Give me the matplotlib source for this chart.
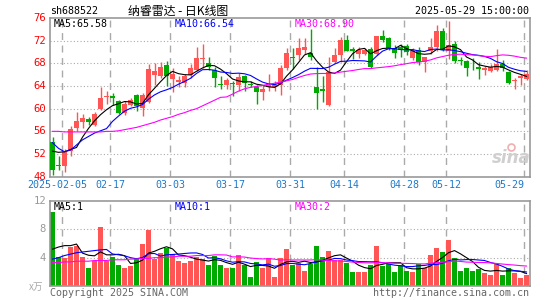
import pandas as pd
import matplotlib
matplotlib.use('Agg')
import matplotlib.pyplot as plt

# 纳睿雷达 daily K-line, 80 trading days up to 2025-05-29
opens = [54.2, 50.1, 49.9, 52.5, 56.6, 57.7, 58.1, 57.1, 59.9, 62.0,
         62.3, 61.4, 59.3, 60.7, 62.5, 60.1, 61.2, 65.9, 65.7, 67.7,
         65.3, 64.7, 64.5, 65.9, 66.9, 68.7, 68.0, 66.9, 64.3, 64.1,
         64.4, 64.2, 65.7, 64.4, 63.9, 62.9, 63.9, 63.8, 64.2, 67.2,
         69.0, 69.5, 70.4, 69.8, 63.9, 63.5, 60.6, 68.2, 69.5, 72.1,
         70.5, 69.6, 69.6, 70.5, 69.6, 72.9, 72.4, 70.7, 70.8, 71.0,
         68.9, 70.4, 68.3, 70.1, 70.9, 73.7, 70.1, 71.5, 68.5, 68.4,
         67.9, 67.3, 66.9, 66.6, 66.9, 67.9, 66.5, 64.8, 65.4, 65.3]
closes = [49.2, 49.9, 52.3, 56.5, 57.9, 58.3, 57.6, 59.0, 61.9, 62.3,
          61.9, 59.3, 60.9, 61.6, 60.4, 62.4, 67.0, 66.6, 67.4, 65.8,
          66.1, 65.0, 65.7, 67.2, 69.0, 69.0, 67.3, 65.4, 64.2, 65.0,
          64.3, 65.6, 64.6, 64.2, 62.9, 63.4, 64.2, 64.1, 67.2, 69.8,
          68.9, 70.7, 70.8, 69.2, 62.7, 63.2, 66.5, 69.5, 72.1, 70.2,
          70.1, 70.4, 70.4, 67.3, 72.9, 72.1, 70.7, 69.8, 70.4, 70.0,
          70.2, 68.2, 69.2, 70.9, 73.7, 70.4, 71.2, 68.4, 68.4, 67.2,
          67.8, 67.0, 67.2, 67.4, 67.9, 67.2, 64.5, 65.0, 65.7, 66.1]
highs = [55.0, 51.7, 52.8, 56.9, 59.4, 59.1, 58.5, 59.4, 63.8, 63.2,
         62.8, 61.6, 61.4, 61.9, 62.6, 62.7, 67.9, 68.0, 68.3, 68.4,
         67.2, 65.7, 66.1, 67.9, 70.8, 71.5, 69.2, 67.4, 65.8, 65.4,
         64.9, 66.3, 66.0, 64.8, 64.2, 64.2, 66.1, 64.8, 67.7, 70.7,
         70.7, 72.5, 72.4, 74.0, 67.4, 65.7, 69.2, 70.7, 72.7, 73.0,
         70.8, 70.8, 70.7, 70.8, 72.9, 73.9, 72.7, 71.2, 71.5, 71.5,
         70.7, 70.9, 69.2, 72.5, 74.7, 74.2, 75.4, 71.9, 69.2, 68.6,
         68.9, 68.3, 67.6, 67.9, 70.5, 68.6, 66.7, 65.4, 66.1, 66.9]
lows = [48.3, 49.1, 48.9, 51.7, 56.0, 56.6, 57.1, 56.9, 59.7, 60.8,
        60.7, 59.1, 58.9, 60.4, 59.6, 58.7, 61.0, 64.2, 65.4, 64.0,
        62.9, 63.9, 63.8, 65.4, 66.7, 67.2, 66.9, 63.9, 63.4, 63.5,
        62.2, 63.1, 63.2, 63.8, 60.8, 61.6, 63.1, 63.2, 62.5, 66.9,
        67.0, 68.6, 69.6, 68.6, 60.0, 61.2, 60.4, 68.0, 68.3, 70.1,
        68.8, 68.9, 69.5, 67.2, 69.5, 71.8, 70.4, 69.0, 69.2, 69.5,
        68.6, 67.7, 66.5, 69.6, 70.1, 70.1, 68.8, 68.0, 67.7, 65.7,
        66.9, 65.3, 66.0, 66.5, 66.6, 66.7, 64.3, 63.5, 64.2, 65.1]
# volume, 万
volumes = [10.5, 4.1, 3.9, 5.5, 5.6, 4.1, 2.6, 3.5, 8.3, 3.5,
           4.1, 3.0, 2.5, 2.8, 4.0, 6.0, 7.9, 3.8, 4.6, 5.4,
           4.5, 3.6, 3.3, 3.5, 4.1, 3.8, 2.9, 4.3, 3.0, 2.5,
           2.6, 4.4, 2.9, 1.3, 3.4, 2.5, 4.0, 1.3, 4.0, 5.2,
           2.9, 3.3, 2.1, 3.1, 5.6, 4.1, 4.9, 3.7, 3.7, 3.3,
           2.0, 2.0, 2.0, 2.9, 5.6, 2.8, 3.1, 2.0, 2.9, 2.1,
           2.0, 3.1, 2.5, 4.4, 5.3, 4.8, 6.5, 4.0, 2.1, 2.6,
           2.1, 2.4, 1.8, 1.6, 3.1, 1.6, 2.6, 1.8, 1.2, 1.6]

# averages before a full window exists (older days are off the chart)
ma5_head = [52.5, 52.3, 52.4, 52.8]
ma10_head = [54.0, 53.0, 52.4, 52.7, 53.6, 54.5, 55.1, 55.7, 56.1]
ma30_head = [56.0, 56.0, 55.9, 55.9, 55.9, 55.9, 55.9, 55.9, 55.9, 56.0,
             56.0, 56.1, 56.3, 56.5, 56.7, 57.0, 57.3, 57.6, 58.0, 58.3,
             58.6, 59.0, 59.3, 59.7, 60.0, 60.5, 61.0, 61.5, 62.0]
vol_ma5_head = [5.2, 5.5, 5.7, 5.7]
vol_ma10_head = [3.8, 4.0, 4.3, 4.5, 4.7, 4.8, 4.9, 5.0, 5.1]
vol_ma30_head = [3.3, 3.3, 3.4, 3.4, 3.5, 3.5, 3.5, 3.6, 3.6, 3.6,
                 3.7, 3.7, 3.7, 3.8, 3.8, 3.9, 3.9, 4.0, 4.0, 4.1,
                 4.1, 4.2, 4.2, 4.2, 4.3, 4.3, 4.3, 4.4, 4.4]

date_labels = ['2025-02-05', '02-17', '03-03', '03-17', '03-31', '04-14', '04-28', '05-12', '05-29']
date_index = [2, 10, 20, 30, 40, 49, 59, 66, 79]
price_ticks = [76, 72, 68, 64, 60, 56, 52, 48]
vol_ticks = [12, 8, 4]

RED = '#ff5555'
GREEN = '#00aa00'
GRID = '#aaaaaa'
MONO = ['DejaVu Sans Mono', 'Noto Sans CJK SC']
plt.rcParams['font.family'] = MONO


def moving_avg(values, n, head):
    s = pd.Series(values, dtype=float).rolling(n).mean()
    s.iloc[:n - 1] = head
    return s


W, H = 545, 300
fig = plt.figure(figsize=(W / 100, H / 100), dpi=100)


def px_axes(left, top, right, bottom):
    return fig.add_axes([left / W, 1 - bottom / H, (right - left) / W, (bottom - top) / H])


def ftext(x, y, s, **kw):
    fig.text(x / W, 1 - y / H, s, va='center', **kw)


ax = px_axes(50, 18, 529.5, 176.7)
axv = px_axes(50, 201, 529.5, 286)

n = len(closes)
xs = list(range(n))
colors = [RED if c >= o else GREEN for o, c in zip(opens, closes)]
x0, x1 = -0.42, n - 0.5

for a in (ax, axv):
    a.set_xlim(x0, x1)
    a.set_xticks([])
    a.set_yticks([])
    for sp in a.spines.values():
        sp.set_color('#999999')
        sp.set_linewidth(1.2)
    for d in date_index:
        a.axvline(d - 0.42, color=GRID, lw=1.0, ls=(0, (5, 4)), zorder=0)

# price panel
ax.set_ylim(48, 76)
for v in price_ticks[1:-1]:
    ax.axhline(v, color=GRID, lw=0.8, ls=(0, (1, 2)), zorder=0)

ax.vlines(xs, lows, highs, colors=colors, lw=1.0, zorder=2)
bottoms = [min(o, c) for o, c in zip(opens, closes)]
heights = [max(abs(c - o), 0.15) for o, c in zip(opens, closes)]
ax.bar(xs, heights, bottom=bottoms, width=5 / 6, color=colors, lw=0, zorder=3)

ax.plot(xs, moving_avg(closes, 5, ma5_head), color='black', lw=0.8, zorder=4)
ax.plot(xs, moving_avg(closes, 10, ma10_head), color='#0000ff', lw=0.8, zorder=4)
ax.plot(xs, moving_avg(closes, 30, ma30_head), color='#ff00ff', lw=0.8, zorder=4)

for v in price_ticks:
    ax.text(-4 / 479.5, v, str(v), transform=ax.get_yaxis_transform(),
            ha='right', va='center', color='#ff0000', fontsize=7.6)

for lab, d in zip(date_labels, date_index):
    if d == date_index[0]:
        ax.text(0.75, -0.055, lab, transform=ax.get_xaxis_transform(),
                ha='center', va='center', color='#1e78c8', fontsize=7.2)
    elif d == date_index[-1]:
        ax.text(d - 0.42, -0.055, lab, transform=ax.get_xaxis_transform(),
                ha='right', va='center', color='#1e78c8', fontsize=7.2)
    else:
        ax.text(d - 0.42, -0.055, lab, transform=ax.get_xaxis_transform(),
                ha='center', va='center', color='#1e78c8', fontsize=7.2)

# sina watermark
ax.text(0.962, 0.115, 'sina', transform=ax.transAxes, ha='center', va='center',
        fontsize=12, fontweight='bold', style='italic', color='#cfcfcf', family='DejaVu Sans')
ax.plot([0.962], [0.19], 'o', transform=ax.transAxes, ms=5, mfc='none', mec='#f0b0b0', mew=1.2)

# volume panel
axv.set_ylim(0, 12)
for v in [8, 4]:
    axv.axhline(v, color=GRID, lw=0.8, ls=(0, (1, 2)), zorder=0)
axv.bar(xs, volumes, width=5 / 6, color=colors, lw=0, zorder=2)
axv.plot(xs, moving_avg(volumes, 5, vol_ma5_head), color='black', lw=0.8, zorder=3)
axv.plot(xs, moving_avg(volumes, 10, vol_ma10_head), color='#0000ff', lw=0.8, zorder=3)
axv.plot(xs, moving_avg(volumes, 30, vol_ma30_head), color='#ff00ff', lw=0.8, zorder=3)
for v in vol_ticks:
    axv.text(-4 / 479.5, v, str(v), transform=axv.get_yaxis_transform(),
             ha='right', va='center', color='#999999', fontsize=7.6)

# header and labels
ftext(50, 11, 'sh688522', ha='left', fontsize=7.2)
ftext(178, 11, '纳睿雷达 - 日K线图', ha='center', fontsize=8.6,
      family=['Noto Sans CJK SC', 'DejaVu Sans'])
ftext(529, 11, '2025-05-29 15:00:00', ha='right', fontsize=7.2)

ftext(54, 24, 'MA5:65.58', ha='left', fontsize=7.2, color='black')
ftext(175, 24, 'MA10:66.54', ha='left', fontsize=7.2, color='#0000ff')
ftext(295, 24, 'MA30:68.90', ha='left', fontsize=7.2, color='#ff00ff')

ftext(54, 207, 'MA5:1', ha='left', fontsize=7.2, color='black')
ftext(175, 207, 'MA10:1', ha='left', fontsize=7.2, color='#0000ff')
ftext(295, 207, 'MA30:2', ha='left', fontsize=7.2, color='#ff00ff')

ftext(36, 287, 'x万', ha='center', fontsize=7, color='#aaaaaa',
      family=['Noto Sans CJK SC', 'DejaVu Sans'])
ftext(50, 293, 'Copyright 2025 SINA.COM', ha='left', fontsize=7.2, color='#666666')
ftext(529, 293, 'http://finance.sina.com.cn', ha='right', fontsize=7.2, color='#666666')

fig.savefig('out.png', dpi=100)
